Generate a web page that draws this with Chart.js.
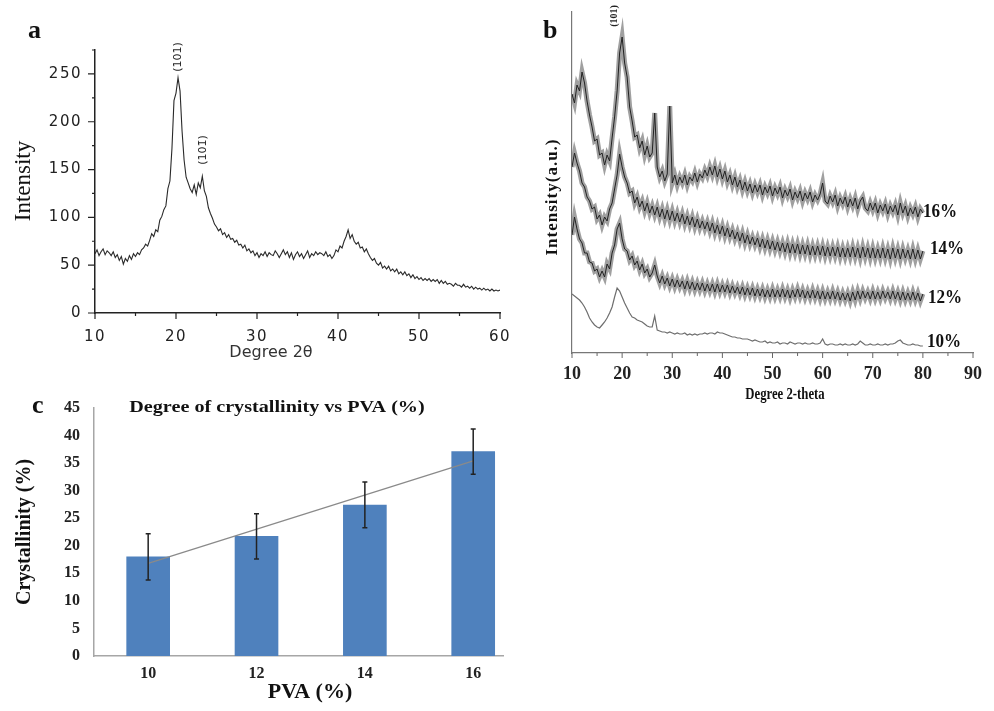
<!DOCTYPE html>
<html><head><meta charset="utf-8">
<script src="https://cdn.jsdelivr.net/npm/chart.js@4.4.0/dist/chart.umd.min.js"></script>
<style>
html,body{margin:0;padding:0;background:#fff;width:994px;height:711px;overflow:hidden;}
canvas{position:absolute;display:block;}
</style></head><body>
<canvas id="ca" width="540" height="375" style="left:0;top:0"></canvas>
<canvas id="cb" width="454" height="410" style="left:540px;top:0"></canvas>
<canvas id="cc" width="560" height="326" style="left:0;top:385px"></canvas>
<script>
// ---------- Panel a : XRD, degree 2θ from 10 to 60 in 0.25 steps ----------
const aStart = 10, aStep = 0.25;
const aIntensity = [
 62,66,60,64, 67,61,65,63, 60,64,58,61, 55,59,51,57, 54,60,56,62,
 59,63,61,66, 68,72,70,76, 83,80,87,85, 97,101,108,112, 130,138,172,222,
 230,246,232,190, 160,142,136,130, 126,134,124,136, 131,143,128,122, 110,104,99,93,
 90,86,88,82, 84,79,82,77, 78,74,76,71, 72,68,71,65, 67,63,65,60,
 63,58,62,60, 64,59,63,61, 60,65,62,58, 62,66,61,64, 58,63,56,61,
 64,59,62,57, 61,65,58,62, 60,64,61,63, 62,60,64,59, 61,57,60,66,
 64,70,68,75, 80,87,78,82, 75,72,74,68, 69,64,67,62, 58,55,57,52,
 50,53,47,49, 46,49,44,46, 43,46,41,43, 40,43,39,41, 37,40,36,38,
 35,37,34,36, 34,36,33,35, 33,35,31,34, 31,33,30,31, 30,28,31,29,
 29,27,30,27, 28,26,28,25, 27,25,26,24, 26,24,25,23, 25,23,24,23,
 24
];
const aXTicks = [10,20,30,40,50,60];
const aXMinor = [15,25,35,45,55];
const aYTicks = [0,50,100,150,200,250];
const aYMinor = [25,75,125,175,225,275];

// ---------- Panel b : XRD for PVA 10-16 %, degree 2-theta 10..80 in 0.5 steps ----------
const bStart = 10, bStep = 0.5;
const b16 = [
 259,250, 268,262, 281,270, 252,238, 226,212, 214,198, 200,188, 198,192, 215,236, 262,300,
 316,290, 276,246, 232,216, 218,205, 212,198, 207,196, 200,240, 186,176, 182,172, 179,247,
 170,178, 168,176, 170,178, 168,176, 172,180, 171,179, 175,183, 177,186, 178,187, 176,184,
 174,182, 171,178, 168,176, 166,173, 163,171, 162,169, 160,168, 161,168, 158,166, 160,167,
 157,165, 159,166, 155,163, 157,164, 153,161, 155,162, 152,160, 154,161, 151,158, 153,159,
 170,152, 149,157, 151,158, 147,155, 149,156, 146,154, 147,155, 144,152, 156,145, 142,150,
 143,150, 140,148, 142,149, 139,147, 141,148, 138,150, 140,147, 137,145, 139,146, 136,144,
 140
];
const b14 = [
 186,200, 190,182, 170,166, 156,152, 144,146, 134,138, 128,136, 132,144, 150,164, 178,199,
 186,176, 170,160, 162,150, 156,146, 152,142, 150,140, 147,138, 146,136, 144,134, 143,133,
 142,132, 140,131, 139,129, 137,128, 136,126, 134,125, 132,124, 131,122, 130,120, 128,119,
 127,117, 125,116, 123,114, 121,112, 120,110, 118,109, 116,108, 115,106, 114,105, 113,104,
 112,103, 111,102, 110,101, 110,100, 109,100, 109,99, 108,99, 108,98, 107,98, 107,98,
 107,97, 106,97, 106,97, 106,96, 105,96, 105,96, 106,96, 105,95, 106,96, 105,95,
 105,95, 104,95, 105,95, 104,94, 105,95, 104,94, 104,95, 103,94, 104,94, 103,94,
 102
];
const b12 = [
 118,136, 124,114, 110,100, 100,91, 90,82, 84,76, 82,76, 89,84, 100,108, 124,130,
 114,104, 102,93, 97,88, 92,83, 89,80, 84,76, 80,88, 77,70, 77,69, 75,67,
 74,66, 73,66, 72,64, 72,64, 71,63, 70,63, 70,62, 69,62, 69,61, 69,61,
 68,61, 68,60, 67,60, 66,59, 66,58, 65,58, 65,57, 64,57, 64,56, 63,56,
 64,56, 63,56, 64,56, 63,55, 63,56, 64,56, 63,55, 62,55, 63,55, 62,54,
 62,54, 61,54, 62,54, 61,53, 60,53, 60,52, 61,53, 62,54, 62,55, 61,54,
 62,54, 61,54, 62,55, 61,54, 62,54, 61,53, 61,53, 60,53, 61,53, 60,52,
 59
];
const b10 = [
 59,57, 55,53, 50,46, 41,35, 31,28, 26,25, 28,31, 35,40, 46,56, 65,62,
 56,50, 45,40, 36,35, 33,32, 31,29, 27,26, 26,37, 23,22, 21,21, 20,21,
 20,19, 20,19, 19,20, 18,19, 18,19, 18,19, 19,20, 19,20, 20,19, 21,20,
 20,19, 18,17, 16,16, 15,15, 14,14, 14,13, 12,13, 12,11, 11,12, 10,11,
 10,10, 11,9, 10,10, 9,11, 10,9, 10,10, 9,10, 9,9, 10,9, 9,10,
 14,9, 8,9, 9,8, 8,9, 8,9, 8,8, 9,8, 9,12, 10,8, 8,9,
 8,8, 9,8, 8,9, 8,9, 9,10, 12,13, 10,9, 8,8, 9,8, 8,7,
 7
];
const bSeriesLabels = ['16%','14%','12%','10%'];
const bXTicks = [10,20,30,40,50,60,70,80,90];
const bXMinor = [15,25,35,45,55,65,75,85];

// ---------- Panel c : crystallinity vs PVA ----------
const cPVA = [10, 12, 14, 16];
const cCrystallinity = [18.0, 21.7, 27.4, 37.1];
const cError = [4.2, 4.1, 4.15, 4.1];
const cTrendX = [10, 16];
const cTrendY = [16.8, 35.4];
const cYTicks = [0,5,10,15,20,25,30,35,40,45];

// ---------- helpers ----------
const SERIF = '"Liberation Serif", "Times New Roman", serif';
const SANS = '"DejaVu Sans", sans-serif';
function txt(ctx, s, x, y, font, o = {}) {
  ctx.save();
  ctx.translate(x, y);
  if (o.rot) ctx.rotate(o.rot);
  ctx.scale(o.sx || 1, 1);
  ctx.font = font;
  ctx.fillStyle = o.color || '#111';
  ctx.textAlign = o.align || 'center';
  ctx.textBaseline = o.base || 'middle';
  ctx.letterSpacing = o.ls || '0px';
  ctx.fillText(s, 0, 0);
  ctx.restore();
}
function tickMarks(chart, id, values, len, color, width) {
  const s = chart.scales[id], ctx = chart.ctx, ca = chart.chartArea;
  ctx.save();
  ctx.strokeStyle = color; ctx.lineWidth = width;
  ctx.beginPath();
  values.forEach(v => {
    const p = s.getPixelForValue(v);
    if (s.isHorizontal()) { ctx.moveTo(p, ca.bottom); ctx.lineTo(p, ca.bottom + len); }
    else { ctx.moveTo(ca.left, p); ctx.lineTo(ca.left - len, p); }
  });
  ctx.stroke();
  ctx.restore();
}
const setTicks = arr => axis => { axis.ticks = arr.map(v => ({ value: v })); };
const base = { responsive: false, animation: false, devicePixelRatio: 1, events: [] };
const noPlug = { legend: { display: false }, tooltip: { enabled: false } };

// ---------- Chart a ----------
const aDegree = aIntensity.map((_, i) => aStart + i * aStep);
new Chart(document.getElementById('ca'), {
  type: 'line',
  data: { datasets: [{
    data: aDegree.map((x, i) => ({ x, y: aIntensity[i] })),
    borderColor: '#2a2a2a', borderWidth: 1.1, pointRadius: 0, tension: 0
  }]},
  options: Object.assign({}, base, {
    layout: { padding: { left: 0, right: 40, top: 50, bottom: 32 } },
    plugins: noPlug,
    scales: {
      x: { type: 'linear', min: 10, max: 60, afterFit: a => { a.height = 30; },
           afterBuildTicks: setTicks(aXTicks), grid: { display: false },
           border: { display: true, color: '#222', width: 1.5 },
           ticks: { font: { family: SANS, size: 15 }, color: '#222', padding: 7, maxRotation: 0, autoSkip: false } },
      y: { type: 'linear', min: 0, max: 275, afterFit: a => { a.width = 95; },
           afterBuildTicks: setTicks(aYTicks), grid: { display: false },
           border: { display: true, color: '#222', width: 1.5 },
           ticks: { font: { family: SANS, size: 15 }, color: '#222', padding: 5, autoSkip: false } }
    }
  }),
  plugins: [{
    id: 'deco',
    beforeDraw(c) { c.ctx.letterSpacing = '1.5px'; },
    beforeDatasetsDraw(c) { c.ctx.letterSpacing = '0px'; },
    afterDraw(c) {
      const ctx = c.ctx;
      tickMarks(c, 'x', aXTicks, 6, '#222', 1.2);
      tickMarks(c, 'x', aXMinor, 3, '#222', 1.2);
      tickMarks(c, 'y', aYTicks, 7, '#222', 1.2);
      tickMarks(c, 'y', aYMinor, 3, '#222', 1.2);
      txt(ctx, 'a', 28, 38, 'bold 26px ' + SERIF, { align: 'left', base: 'alphabetic' });
      txt(ctx, 'Intensity', 24, 181, '23px ' + SERIF, { rot: -Math.PI / 2 });
      txt(ctx, 'Degree 2θ', 271, 353, '16px ' + SANS, { color: '#333' });
      txt(ctx, '(101)', 178, 57, '11px ' + SANS, { rot: -Math.PI / 2, color: '#222' });
      txt(ctx, '(101\u0304)', 203, 150, '11px ' + SANS, { rot: -Math.PI / 2, color: '#222' });
    }
  }]
});

// ---------- Chart b ----------
const bDegree = b10.map((_, i) => bStart + i * bStep);
const bPts = arr => arr.map((y, i) => ({ x: bDegree[i], y }));
const lineDs = (arr, color, w, order) => ({ data: bPts(arr), borderColor: color, borderWidth: w, pointRadius: 0, tension: 0, order });
new Chart(document.getElementById('cb'), {
  type: 'line',
  data: { datasets: [
    lineDs(b16, '#a0a0a0', 5, 2), lineDs(b16, '#222', 1, 1),
    lineDs(b14, '#a0a0a0', 5, 2), lineDs(b14, '#222', 1, 1),
    lineDs(b12, '#a0a0a0', 5, 2), lineDs(b12, '#222', 1, 1),
    lineDs(b10, '#6e6e6e', 1.2, 1)
  ]},
  options: Object.assign({}, base, {
    layout: { padding: { left: 0, right: 21, top: 12, bottom: 27 } },
    plugins: noPlug,
    scales: {
      x: { type: 'linear', min: 10, max: 90, afterFit: a => { a.height = 30; },
           afterBuildTicks: setTicks(bXTicks), grid: { display: false },
           border: { display: true, color: '#777', width: 1.2 },
           ticks: { font: { family: SERIF, size: 18, weight: 'bold' }, color: '#222', padding: 3, maxRotation: 0, autoSkip: false } },
      y: { type: 'linear', min: 0, max: 341, afterFit: a => { a.width = 32; },
           grid: { display: false }, ticks: { display: false },
           border: { display: true, color: '#777', width: 1.2 } }
    }
  }),
  plugins: [{
    id: 'decoB',
    afterDraw(c) {
      const ctx = c.ctx;
      tickMarks(c, 'x', bXTicks, 5, '#666', 1);
      tickMarks(c, 'x', bXMinor, 3, '#666', 1);
      txt(ctx, 'b', 3, 38, 'bold 26px ' + SERIF, { align: 'left', base: 'alphabetic' });
      txt(ctx, 'Intensity(a.u.)', 13, 197, 'bold 17px ' + SERIF, { rot: -Math.PI / 2, ls: '1px' });
      txt(ctx, 'Degree 2-theta', 245, 395, 'bold 17px ' + SERIF, { sx: 0.75 });
      txt(ctx, '(101)', 74, 16, 'bold 10px ' + SERIF, { rot: -Math.PI / 2, color: '#222' });
      const pos = [[383, 212], [390, 249], [388, 298], [387, 342]];
      bSeriesLabels.forEach((s, i) => txt(ctx, s, pos[i][0], pos[i][1], 'bold 18px ' + SERIF, { align: 'left', sx: 0.95 }));
    }
  }]
});

// ---------- Chart c ----------
new Chart(document.getElementById('cc'), {
  type: 'bar',
  data: { datasets: [
    { type: 'line', data: cTrendX.map((x, i) => ({ x, y: cTrendY[i] })), borderColor: '#8a8a8a', borderWidth: 1.2, pointRadius: 0, order: 0 },
    { type: 'bar', data: cPVA.map((x, i) => ({ x, y: cCrystallinity[i] })), backgroundColor: '#4F81BD', barThickness: 43, order: 1 }
  ]},
  options: Object.assign({}, base, {
    layout: { padding: { left: 0, right: 57, top: 23, bottom: 25 } },
    plugins: noPlug,
    scales: {
      x: { type: 'linear', min: 9, max: 16.55, offset: false, afterFit: a => { a.height = 30; },
           afterBuildTicks: setTicks(cPVA), grid: { display: false },
           border: { display: true, color: '#a6a6a6', width: 1.5 },
           ticks: { font: { family: SERIF, size: 16, weight: 'bold' }, color: '#222', padding: 0, maxRotation: 0, autoSkip: false } },
      y: { type: 'linear', min: 0, max: 45, afterFit: a => { a.width = 94; },
           afterBuildTicks: setTicks(cYTicks), grid: { display: false },
           border: { display: true, color: '#a6a6a6', width: 1.5 },
           ticks: { font: { family: SERIF, size: 16, weight: 'bold' }, color: '#222', padding: 6, autoSkip: false } }
    }
  }),
  plugins: [{
    id: 'decoC',
    afterDatasetsDraw(c) {
      const x = c.scales.x, y = c.scales.y, ctx = c.ctx;
      ctx.save();
      ctx.strokeStyle = '#222'; ctx.lineWidth = 1.5;
      cPVA.forEach((v, i) => {
        const px = x.getPixelForValue(v);
        const t = y.getPixelForValue(cCrystallinity[i] + cError[i]);
        const b = y.getPixelForValue(cCrystallinity[i] - cError[i]);
        ctx.beginPath();
        ctx.moveTo(px, t); ctx.lineTo(px, b);
        ctx.moveTo(px - 2.5, t); ctx.lineTo(px + 2.5, t);
        ctx.moveTo(px - 2.5, b); ctx.lineTo(px + 2.5, b);
        ctx.stroke();
      });
      ctx.restore();
    },
    afterDraw(c) {
      const ctx = c.ctx;
      txt(ctx, 'c', 32, 28, 'bold 26px ' + SERIF, { align: 'left', base: 'alphabetic' });
      txt(ctx, 'Degree of crystallinity vs PVA (%)', 277, 23, 'bold 16px ' + SERIF, { sx: 1.26 });
      txt(ctx, 'Crystallinity (%)', 25, 147, 'bold 20px ' + SERIF, { rot: -Math.PI / 2 });
      txt(ctx, 'PVA (%)', 310, 307, 'bold 22px ' + SERIF);
    }
  }]
});
</script>
</body></html>
